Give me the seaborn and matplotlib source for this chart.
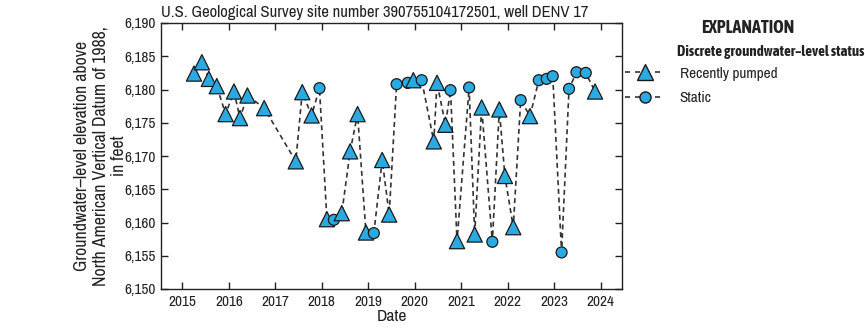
import matplotlib
matplotlib.use("Agg")
import matplotlib.pyplot as plt
import seaborn as sns
import pandas as pd
from matplotlib.lines import Line2D
from matplotlib import font_manager

# Decimal-year dates and water-level elevations (feet)
dates = [2015.25, 2015.42, 2015.57, 2015.74, 2015.93, 2016.11, 2016.24, 2016.40, 2016.76,
         2017.44, 2017.58, 2017.78, 2017.95, 2018.11, 2018.26, 2018.43, 2018.61, 2018.77,
         2018.95, 2019.12, 2019.30, 2019.45, 2019.61, 2019.85, 2019.97, 2020.15, 2020.41,
         2020.48, 2020.66, 2020.77, 2020.91, 2021.17, 2021.29, 2021.44, 2021.67, 2021.82,
         2021.94, 2022.12, 2022.28, 2022.48, 2022.67, 2022.84, 2022.97, 2023.16, 2023.32,
         2023.48, 2023.68, 2023.88]
levels = [6182.4, 6184.1, 6181.6, 6180.5, 6176.3, 6179.7, 6175.7, 6179.1, 6177.2,
          6169.2, 6179.6, 6176.1, 6180.2, 6160.5, 6160.4, 6161.4, 6170.7, 6176.3,
          6158.5, 6158.4, 6169.4, 6161.2, 6180.8, 6181.0, 6181.4, 6181.4, 6172.2,
          6181.0, 6174.7, 6179.9, 6157.2, 6180.3, 6158.2, 6177.3, 6157.1, 6177.0,
          6167.0, 6159.3, 6178.4, 6176.0, 6181.4, 6181.6, 6182.0, 6155.5, 6180.1,
          6182.6, 6182.5, 6179.7]
status = ["Recently pumped"] * 12 + ["Static", "Recently pumped", "Static"] + ["Recently pumped"] * 4 + \
         ["Static", "Recently pumped", "Recently pumped", "Static", "Static", "Recently pumped", "Static",
          "Recently pumped", "Recently pumped", "Recently pumped", "Static", "Recently pumped", "Static",
          "Recently pumped", "Recently pumped", "Static", "Recently pumped", "Recently pumped",
          "Recently pumped", "Static", "Recently pumped", "Static", "Static", "Static", "Static",
          "Static", "Static", "Static", "Recently pumped"]

year_ticks = list(range(2015, 2025))
level_ticks = list(range(6150, 6191, 5))

df = pd.DataFrame({"date": dates, "level": levels, "status": status})

sns.set_style("ticks")

# pick a condensed face if one is installed, preferring one with a bold weight
ttf = font_manager.fontManager.ttflist
names = sorted({f.name for f in ttf})
cond = [n for n in names if ("Narrow" in n or "Condensed" in n)]
def has_bold(n):
    return any(f.name == n and (f.weight in ("bold", "heavy", "black", "semibold", "demibold")
                                or (isinstance(f.weight, int) and f.weight >= 600)) for f in ttf)
cond_bold = [n for n in cond if has_bold(n)]
fam = cond[0] if cond else "Liberation Sans"
bfam = cond_bold[0] if cond_bold else fam
plt.rcParams['font.family'] = [fam, 'DejaVu Sans']
plt.rcParams['text.color'] = "#222222"
plt.rcParams['axes.labelcolor'] = "#222222"
plt.rcParams['xtick.color'] = "#222222"
plt.rcParams['ytick.color'] = "#222222"
narrow = bool(cond)
fs = 11 if narrow else 9.5

fig = plt.figure(figsize=(8.65, 3.28), dpi=100)
ax = fig.add_axes([161/865, 1-289/328, (622-161)/865, (289-23)/328])

fill = "#2BAAE2"
edge = "#1a1a1a"

sns.lineplot(data=df, x="date", y="level", ax=ax, color="#333333", linestyle=(0, (3, 2.2)),
             linewidth=1.2, sort=True, zorder=2, legend=False)
sns.scatterplot(data=df, x="date", y="level", hue="status", style="status", size="status",
                markers={"Recently pumped": "^", "Static": "o"},
                palette={"Recently pumped": fill, "Static": fill},
                sizes={"Recently pumped": 120, "Static": 62},
                edgecolor=edge, linewidth=0.9, ax=ax, zorder=3, legend=False)

ax.set_xlim(2014.54, 2024.46)
ax.set_ylim(6150, 6190)
ax.set_xticks(year_ticks)
ax.set_xticklabels([str(y) for y in year_ticks], fontsize=fs)
ax.set_yticks(level_ticks)
ax.set_yticklabels([f"{v:,}" for v in level_ticks], fontsize=fs)
ax.tick_params(direction="in", length=5, width=1, top=True, right=True, pad=4)
for s in ax.spines.values():
    s.set_linewidth(1.0)
    s.set_color("#222222")

ax.set_xlabel("Date", fontsize=fs + 1.5, labelpad=0)
ax.set_ylabel("Groundwater\u2013level elevation above\nNorth American Vertical Datum of 1988,\nin feet",
              fontsize=fs + 1.8, labelpad=-2, linespacing=1.2)
ax.set_title("U.S. Geological Survey site number 390755104172501, well DENV 17",
             fontsize=fs + 1, loc="left", pad=4)

fig.text(748/865, 1-28/328, "EXPLANATION", fontsize=fs + 2, fontweight="bold",
         family=[bfam, 'DejaVu Sans'], ha="center", va="center")
fig.text(864/865, 1-52/328, "Discrete groundwater\u2013level status", fontsize=fs - 0.3, fontweight="bold",
         family=[bfam, 'DejaVu Sans'], ha="right", va="center")

handles = [Line2D([0], [0], color="#333333", linestyle=(0, (3, 3)), linewidth=1.2,
                  marker="^", markersize=11, markerfacecolor=fill, markeredgecolor=edge),
           Line2D([0], [0], color="#333333", linestyle=(0, (3, 3)), linewidth=1.2,
                  marker="o", markersize=8, markerfacecolor=fill, markeredgecolor=edge)]
fig.legend(handles, ["Recently pumped", "Static"], loc="upper left",
           bbox_to_anchor=(611/865, 1-53/328), frameon=False, fontsize=fs,
           handlelength=2.6, handletextpad=1.0, labelspacing=0.7)

fig.savefig("out.png", dpi=100)
